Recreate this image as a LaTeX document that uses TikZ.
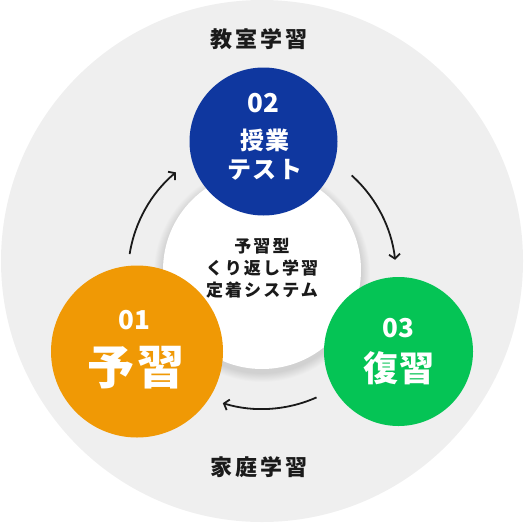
\documentclass[tikz,border=0pt]{standalone}
\usepackage{fontspec}
\setmainfont{Noto Sans CJK JP}
\usetikzlibrary{arrows.meta}
\definecolor{bgray}{HTML}{EFEFEF}
\definecolor{cblue}{HTML}{0F379F}
\definecolor{corange}{HTML}{F09905}
\definecolor{cgreen}{HTML}{05C455}
\definecolor{ink}{HTML}{1A1A1A}
\begin{document}
\begin{tikzpicture}[x=1pt,y=-1pt,
  stage/.style={circle, inner sep=0pt, minimum size=#1},
  flow/.style={line width=1.8pt, draw=ink, -{Straight Barb[length=4.5pt,width=11pt,line width=1.8pt]}},
  lbl/.style={inner sep=0pt, text=ink, font=\fontsize{22}{26}\selectfont\bfseries\addfontfeature{LetterSpace=14}},
  num/.style={inner sep=0pt, text=white, font=\fontsize{26}{28}\selectfont\bfseries},
  wtxt/.style={inner sep=0pt, text=white, font=\fontsize{#1}{#1}\selectfont\bfseries\addfontfeature{LetterSpace=5}},
  ctxt/.style={inner sep=0pt, text=ink, font=\fontsize{17}{22}\selectfont\bfseries\addfontfeature{LetterSpace=12}}
]
\useasboundingbox (0,0) rectangle (524,522);
\fill[bgray] (262,261) circle[radius=261];
% shadow of centre circle
\foreach \i in {1,...,10}{
  \fill[black, opacity=0.012] (262,274) circle[radius=99+\i*0.9];
}
\node[stage=198, fill=white] (core) at (262,270) {};
% arrows
\coordinate (o) at (262,275);
\draw[flow] ([shift={(-171:134)}]o) arc[start angle=-171, end angle=-130, radius=134];
\draw[flow] ([shift={(-48:134)}]o) arc[start angle=-48, end angle=-6.5, radius=134];
\draw[flow] ([shift={(66:134)}]o) arc[start angle=66, end angle=107, radius=134];
% stages
\node[stage=148, fill=cblue] (s2) at (263.5,141.5) {};
\node[stage=172, fill=corange] (s1) at (137,351.5) {};
\node[stage=149, fill=cgreen] (s3) at (398.5,351.5) {};
% texts
\node[lbl] (t1) at (259,39) {教室学習};
\node[lbl] (t2) at (259,467) {家庭学習};
\node[num] (n2) at (263.5,103) {02};
\node[wtxt=24] (a2) at (265,140) {授業};
\node[wtxt=24] (b2) at (265,170) {テスト};
\node[num] (n1) at (134.5,320) {01};
\node[wtxt=47] (a1) at (136,368) {予習};
\node[num] (n3) at (398.5,328) {03};
\node[wtxt=35] (a3) at (399,368) {復習};
\node[ctxt] (c1) at (262,246) {予習型};
\node[ctxt] (c2) at (262,268) {くり返し学習};
\node[ctxt] (c3) at (262,290) {定着システム};
\end{tikzpicture}
\end{document}
